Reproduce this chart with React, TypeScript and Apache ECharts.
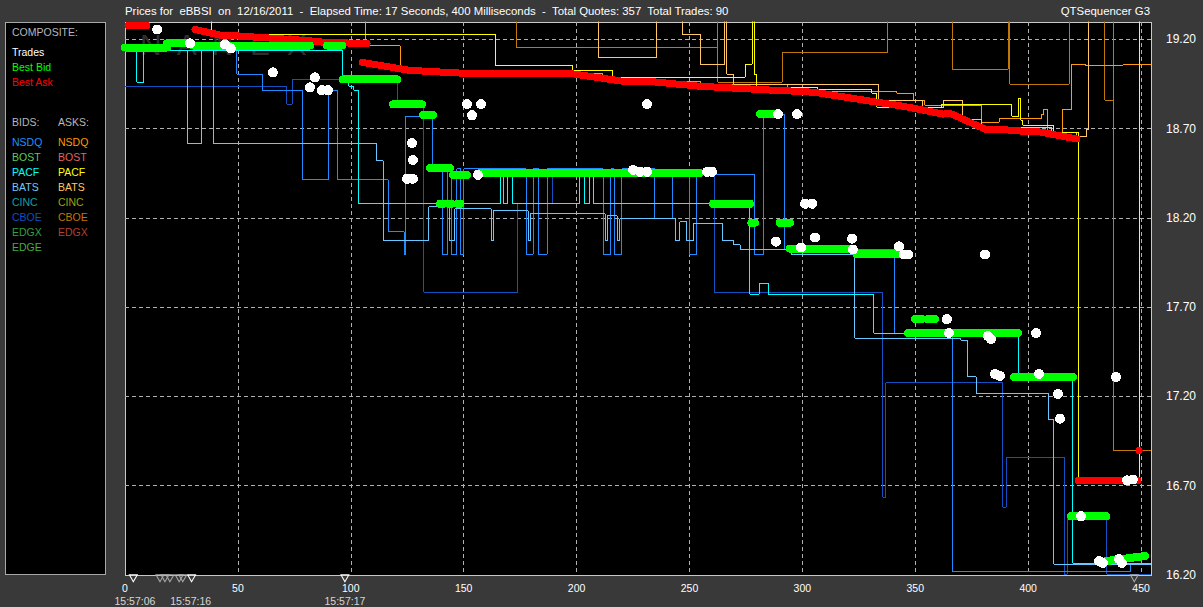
import React, { useEffect, useRef } from "react";
import * as echarts from "echarts";

const BASE = 16.2;
const Y_TOP = 19.297;
const X_MAX = 454.4;
const OFF = 19.35; // quote above visible range

const titleText =
  "Prices for  eBBSI  on  12/16/2011  -  Elapsed Time: 17 Seconds, 400 Milliseconds  -  Total Quotes: 357  Total Trades: 90";
const brandText = "QTSequencer G3";

const bidNames = ["NSDQ", "BOST", "PACF", "BATS", "CINC", "CBOE", "EDGX", "EDGE"];
const bidColors = ["#1e90ff", "#5ecb5e", "#00ffff", "#70c8ff", "#10a0a0", "#0a50c0", "#30a040", "#40b040"];
const askNames = ["NSDQ", "BOST", "PACF", "BATS", "CINC", "CBOE", "EDGX"];
const askColors = ["#ff9900", "#e06464", "#ffff00", "#ffc864", "#a0a010", "#c07800", "#b04030"];

// step series: [x, price from x onwards]
const pacfBid: [number, number][] = [
  [0, 19.137], [5.3, 18.959], [8.4, 19.137], [96.5, 18.959], [99.2, 18.937], [101.4, 18.915], [103.6, 18.279],
  [166.1, 18.441], [167.8, 18.279], [169.6, 18.441], [171.8, 18.279], [201.5, 18.441], [203.7, 18.279],
  [205.5, 18.441], [207.3, 18.279], [276.8, 17.772], [280.8, 17.833], [284.8, 17.772], [331.7, 17.554],
  [395.5, 17.309], [419.8, 16.267], [454.4, 16.267],
];
const batsBid: [number, number][] = [
  [8.0, 19.137], [27.5, 18.614], [34.1, 19.154], [39.4, 18.614], [111.6, 18.519], [114.3, 18.073], [134.6, 18.262],
  [143.5, 18.073], [146.1, 18.251], [162.1, 18.073], [163.0, 18.24], [178.5, 18.073], [179.4, 18.223],
  [212.6, 18.073], [213.5, 18.212], [217.9, 18.073], [219.2, 18.195], [244.0, 18.073], [245.8, 18.179],
  [248.9, 18.073], [251.6, 18.168], [264.8, 18.073], [269.3, 18.05], [272.4, 18.023], [295.0, 17.995],
  [323.3, 17.526], [370.2, 17.515], [373.3, 17.309], [376.9, 17.214], [409.2, 17.069], [411.4, 16.261],
  [454.4, 16.261],
];
const nsdqBid: [number, number][] = [
  [31.9, 19.154], [49.6, 19.004], [60.7, 18.915], [78.4, 18.413], [90.3, 18.915], [93.9, 18.413], [116.5, 18.123],
  [123.6, 17.995], [124.4, 18.77], [136.4, 18.474], [140.8, 17.995], [143.0, 18.474], [144.8, 17.995],
  [147.0, 18.474], [148.8, 17.995], [150.1, 18.474], [177.6, 17.995], [180.7, 18.474], [183.3, 17.995],
  [186.9, 18.474], [211.7, 17.995], [215.2, 18.474], [216.6, 17.995], [220.1, 18.474], [234.7, 18.195],
  [242.7, 18.441], [249.8, 17.995], [253.3, 18.441], [279.0, 17.995], [282.6, 18.781], [291.9, 18.023],
  [341.0, 17.554], [366.7, 16.217], [445.1, 16.267], [454.4, 16.267],
];
const cboeBid: [number, number][] = [
  [0, 18.937], [71.7, 18.836], [74.0, 18.976], [120.5, 18.836], [132.4, 17.783], [174.0, 18.279], [189.5, 18.441],
  [260.9, 17.783], [335.7, 16.635], [337.0, 17.276], [388.8, 16.579], [390.2, 16.858], [415.9, 16.205],
  [417.2, 16.523], [434.9, 16.205], [454.4, 16.205],
];
const pacfAsk: [number, number][] = [
  [0, OFF], [38.5, 19.227], [163.9, 19.054], [198.0, 19.026], [216.1, 18.987], [274.6, 19.06], [277.7, OFF],
  [278.6, 19.004], [279.9, 18.931], [306.9, 18.92], [330.8, 18.898], [333.0, 18.82], [361.8, 18.836],
  [392.8, 18.77], [395.9, 18.87], [396.8, 18.747], [397.7, 18.719], [411.0, 18.68], [422.1, 16.73],
  [449.5, OFF], [454.4, OFF],
];
const batsAsk: [number, number][] = [
  [0, OFF], [209.5, 19.099], [235.6, OFF], [247.1, 19.227], [254.7, 19.06], [265.7, OFF], [266.6, 19.004],
  [269.7, 18.948], [333.5, 18.859], [353.4, 18.82], [362.7, 18.859], [371.1, 18.753], [379.5, 18.708],
  [410.5, 18.68], [421.6, 18.658], [426.0, 18.697], [426.9, OFF], [454.4, OFF],
];
const nsdqAsk: [number, number][] = [
  [0, OFF], [106.3, 19.165], [121.8, 19.026], [151.5, 19.004], [198.4, 19.009], [211.3, 18.987], [220.5, 18.965],
  [254.7, 18.948], [293.2, 18.931], [306.9, 18.909], [341.9, 18.898], [349.0, 18.859], [354.3, 18.831],
  [379.5, 18.736], [387.1, 18.758], [406.1, 18.781], [407.0, 18.809], [408.4, 18.68], [415.4, 18.809],
  [419.4, 19.06], [425.2, 19.054], [442.0, 19.06], [454.4, 19.06],
];
const cboeAsk: [number, number][] = [
  [0, OFF], [173.6, 19.154], [262.2, OFF], [262.6, 18.959], [291.0, 19.126], [337.9, OFF], [366.3, 19.032],
  [391.1, OFF], [391.9, 18.948], [418.1, OFF], [434.0, 18.859], [437.6, OFF], [438.0, 16.897], [454.4, 16.897],
];

// composite best bid runs: [xStart, xEnd, priceStart, priceEnd]
const bestBidRuns: [number, number, number, number][] = [
  [0, 18.6, 19.154, 19.154], [18.6, 27.5, 19.177, 19.177], [30.1, 81.9, 19.165, 19.165], [89.5, 96.1, 19.165, 19.165],
  [96.5, 120.5, 18.976, 18.976], [118.7, 131.5, 18.836, 18.836], [132.0, 136.4, 18.775, 18.775],
  [135.1, 143.9, 18.48, 18.48], [145.3, 151.5, 18.441, 18.441], [139.5, 141.0, 18.279, 18.279],
  [143.5, 144.5, 18.279, 18.279], [147.2, 148.4, 18.279, 18.279], [157.2, 254.7, 18.452, 18.452],
  [260.4, 276.8, 18.279, 18.279], [277.4, 279.0, 18.173, 18.173], [281.2, 287.0, 18.781, 18.781],
  [290.0, 294.5, 18.173, 18.173], [294.5, 322.4, 18.028, 18.028], [324.2, 341.9, 17.995, 17.995],
  [346.8, 395.5, 17.555, 17.555], [349.9, 353.0, 17.633, 17.633], [355.5, 358.7, 17.633, 17.633],
  [393.7, 419.8, 17.309, 17.309], [419.0, 434.5, 16.529, 16.529], [434.5, 451.7, 16.278, 16.306],
];

// composite best ask runs
const bestAskRuns: [number, number][][] = [
  [[1.3, 19.277], [9.7, 19.277]],
  [[31.0, 19.255], [43.0, 19.221], [47.4, 19.221], [80.6, 19.193], [89.5, 19.182], [107.2, 19.177]],
  [
    [105.0, 19.071], [126.2, 19.026], [151.5, 19.009], [197.1, 19.009], [220.5, 18.965], [231.6, 18.965],
    [254.7, 18.937], [287.0, 18.915], [297.6, 18.909], [305.6, 18.903], [333.0, 18.848], [341.9, 18.831],
    [346.8, 18.82], [362.3, 18.781], [365.4, 18.786], [380.9, 18.697], [386.2, 18.697], [402.1, 18.681],
    [405.2, 18.681], [421.6, 18.642],
  ],
  [[422.1, 16.73], [448.6, 16.73]],
];
const bestAskDots: [number, number][] = [[449.1, 16.897]];

const trades: [number, number][] = [
  [14.2, 19.255], [28.8, 19.177], [44.3, 19.171], [46.9, 19.149], [65.5, 19.015], [81.9, 18.931], [84.1, 18.987],
  [87.2, 18.915], [89.9, 18.915], [127.1, 18.619], [127.5, 18.524], [124.9, 18.419], [127.5, 18.419],
  [151.5, 18.837], [153.7, 18.775], [157.7, 18.837], [156.3, 18.441], [225.0, 18.469], [228.1, 18.458],
  [231.2, 18.458], [231.2, 18.837], [257.8, 18.458], [260.0, 18.458], [288.3, 18.067], [289.2, 18.781],
  [297.6, 18.781], [299.4, 18.034], [301.2, 18.279], [304.3, 18.279], [305.6, 18.09], [322.0, 18.084],
  [322.4, 18.023], [342.8, 18.04], [345.0, 17.995], [346.8, 17.995], [380.9, 17.995], [364.0, 17.633],
  [364.9, 17.555], [382.2, 17.538], [383.5, 17.521], [403.5, 17.555], [385.3, 17.326], [387.5, 17.315],
  [404.8, 17.326], [413.2, 17.214], [414.1, 17.075], [438.9, 17.309], [423.4, 16.529], [431.4, 16.278],
  [433.1, 16.267], [440.2, 16.289], [441.5, 16.267], [443.8, 16.73], [446.4, 16.735],
];

const tradeMarksMajor = [3.7, 29.5, 97.4];
const tradeMarksMinor = [15.5, 17.7, 19.9, 24.0, 25.6, 447.0];
const timeLabels: [number, string][] = [[4.4, "15:57:06"], [29.1, "15:57:16"], [97.4, "15:57:17"]];

const FONT = "'Liberation Sans', Arial, sans-serif";

function stepSeries(data: [number, number][], color: string) {
  return {
    type: "line",
    step: "end",
    data: data.map(([x, p]) => [x, p - BASE]),
    symbol: "none",
    silent: true,
    lineStyle: { color, width: 1 },
    z: 2,
  };
}

export default function App() {
  const ref = useRef<HTMLDivElement>(null);
  useEffect(() => {
    const chart = echarts.init(ref.current!, null, { renderer: "svg" });
    const series: any[] = [];
    series.push(stepSeries(cboeBid, "#1450c0"));
    series.push(stepSeries(nsdqBid, "#1e8cff"));
    series.push(stepSeries(batsBid, "#66c8ff"));
    series.push(stepSeries(pacfBid, "#00ffff"));
    series.push(stepSeries(cboeAsk, "#c07808"));
    series.push(stepSeries(nsdqAsk, "#ff9a10"));
    series.push(stepSeries(batsAsk, "#ffc864"));
    series.push(stepSeries(pacfAsk, "#ffff00"));

    bestAskRuns.forEach((run) => {
      series.push({
        type: "line",
        data: run.map(([x, p]) => [x, p - BASE]),
        symbol: "none",
        silent: true,
        lineStyle: { color: "#ff0000", width: 7, cap: "round", join: "round" },
        z: 4,
      });
    });
    series.push({
      type: "scatter",
      data: bestAskDots.map(([x, p]) => [x, p - BASE]),
      symbolSize: 7,
      itemStyle: { color: "#ff0000", opacity: 1 },
      z: 4,
    });
    bestBidRuns.forEach(([x0, x1, p0, p1]) => {
      series.push({
        type: "line",
        data: [[x0, p0 - BASE], [x1, p1 - BASE]],
        symbol: "none",
        silent: true,
        lineStyle: { color: "#00ff00", width: 8, cap: "round", join: "round" },
        z: 4,
      });
    });
    series.push({
      type: "scatter",
      data: trades.map(([x, p]) => [x, p - BASE]),
      symbolSize: 10,
      itemStyle: { color: "#ffffff", opacity: 1 },
      z: 5,
    });
    series.push({
      type: "scatter",
      clip: false,
      data: tradeMarksMajor.map((x) => [x, -0.018]),
      symbol: "triangle",
      symbolRotate: 180,
      symbolSize: [8, 7],
      itemStyle: { color: "rgba(0,0,0,0)", borderColor: "#ffffff", borderWidth: 1, opacity: 1 },
      z: 5,
    });
    series.push({
      type: "scatter",
      clip: false,
      data: tradeMarksMinor.map((x) => [x, -0.018]),
      symbol: "triangle",
      symbolRotate: 180,
      symbolSize: [8, 7],
      itemStyle: { color: "rgba(0,0,0,0)", borderColor: "#a8a8a8", borderWidth: 1, opacity: 1 },
      z: 5,
    });
    series.push({
      type: "scatter",
      clip: false,
      data: timeLabels.map(([x, t]) => [x, -0.143, t]),
      symbolSize: 1,
      itemStyle: { color: "rgba(0,0,0,0)" },
      label: {
        show: true,
        position: "inside",
        formatter: (p: any) => p.value[2],
        color: "#ffffff",
        fontSize: 10.5,
        fontFamily: FONT,
      },
      z: 5,
    });

    const graphic: any[] = [];
    graphic.push({
      type: "rect",
      shape: { x: 5.5, y: 22.5, width: 100, height: 552 },
      style: { fill: "#000", stroke: "#a8a8a8", lineWidth: 1 },
      z: 10,
    });
    const txt = (x: number, y: number, text: string, fill: string, size = 10.5, align = "left") => ({
      type: "text",
      x,
      y,
      z: 11,
      style: { text, fill, fontSize: size, fontFamily: FONT, textAlign: align, textVerticalAlign: "middle" },
    });
    graphic.push(txt(12, 32, "COMPOSITE:", "#b8b8b8"));
    graphic.push(txt(12, 52, "Trades", "#ffffff"));
    graphic.push(txt(12, 67, "Best Bid", "#00ff00"));
    graphic.push(txt(12, 82, "Best Ask", "#ff0000"));
    graphic.push(txt(12, 122, "BIDS:", "#b8b8b8"));
    graphic.push(txt(58, 122, "ASKS:", "#b8b8b8"));
    bidNames.forEach((n, i) => graphic.push(txt(12, 142 + 15 * i, n, bidColors[i])));
    askNames.forEach((n, i) => graphic.push(txt(58, 142 + 15 * i, n, askColors[i])));
    graphic.push(txt(125, 11, titleText, "#ffffff", 11.4));
    graphic.push(txt(1150, 11, brandText, "#ffffff", 11.4, "right"));
    graphic.push({
      type: "text",
      x: 140,
      y: 44,
      z: 1,
      silent: true,
      style: {
        text: "N  A  N  E  X",
        fill: "#2e2e2e",
        fontSize: 30,
        fontFamily: FONT,
        textVerticalAlign: "middle",
      },
    });

    chart.setOption({
      animation: false,
      backgroundColor: "#393939",
      grid: {
        left: 125,
        right: 52,
        top: 22,
        bottom: 32,
        show: true,
        backgroundColor: "#000000",
        borderColor: "#c8c8c8",
        borderWidth: 1,
      },
      xAxis: {
        type: "value",
        min: 0,
        max: X_MAX,
        interval: 50,
        axisLine: { show: false },
        axisTick: { show: false },
        axisLabel: { color: "#ffffff", fontSize: 10.5, fontFamily: FONT, margin: 7, showMaxLabel: false },
        splitLine: {
          show: true,
          showMinLine: false,
          showMaxLine: false,
          lineStyle: { color: "#b0b0b0", type: [4, 3], width: 1 },
        },
      },
      yAxis: {
        type: "value",
        position: "right",
        min: 0,
        max: Y_TOP - BASE,
        interval: 0.5,
        axisLine: { show: false },
        axisTick: { show: false },
        axisLabel: {
          color: "#ffffff",
          fontSize: 12,
          fontFamily: FONT,
          margin: 15,
          showMaxLabel: false,
          formatter: (v: number) => (v + BASE).toFixed(2),
        },
        splitLine: {
          show: true,
          showMinLine: false,
          showMaxLine: false,
          lineStyle: { color: "#b0b0b0", type: [4, 3], width: 1 },
        },
      },
      graphic,
      series,
    });
    return () => chart.dispose();
  }, []);
  return (
    <>
      <style>{"#qtchart svg path{shape-rendering:crispEdges}"}</style>
      <div
        id="qtchart"
        ref={ref}
        style={{ position: "fixed", left: 0, top: 0, width: 1203, height: 607, background: "#393939" }}
      />
    </>
  );
}
